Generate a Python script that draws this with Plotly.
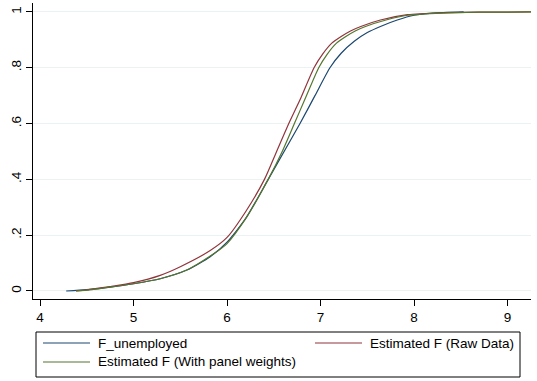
import plotly.graph_objects as go

# Data (x value, cumulative share F)
x_unemp = [4.28, 4.5, 4.75, 5.0, 5.285, 5.57, 5.82, 6.0, 6.2, 6.44, 6.61, 6.78, 6.94, 7.10, 7.22, 7.36, 7.5, 7.64, 7.82, 8.0, 8.2, 8.53]
F_unemp = [0.0, 0.005, 0.014, 0.026, 0.044, 0.075, 0.123, 0.175, 0.26, 0.4, 0.5, 0.6, 0.7, 0.8, 0.852, 0.895, 0.926, 0.948, 0.971, 0.988, 0.996, 1.0]

x_raw = [4.385, 4.5, 4.75, 5.0, 5.285, 5.5, 5.82, 6.0, 6.2, 6.4, 6.53, 6.66, 6.78, 6.93, 7.02, 7.12, 7.22, 7.32, 7.43, 7.64, 7.93, 8.3, 8.7, 9.25]
F_raw = [0.0, 0.004, 0.016, 0.03, 0.056, 0.087, 0.145, 0.192, 0.285, 0.4, 0.5, 0.6, 0.685, 0.8, 0.848, 0.888, 0.912, 0.932, 0.948, 0.971, 0.99, 0.997, 0.999, 1.0]

x_pw = [4.385, 4.5, 4.75, 5.0, 5.285, 5.57, 5.82, 6.0, 6.2, 6.44, 6.59, 6.72, 6.83, 6.98, 7.07, 7.17, 7.27, 7.37, 7.48, 7.70, 7.93, 8.3, 8.7, 9.25]
F_pw = [0.0, 0.003, 0.014, 0.026, 0.044, 0.075, 0.125, 0.17, 0.26, 0.4, 0.5, 0.6, 0.685, 0.8, 0.848, 0.888, 0.912, 0.932, 0.948, 0.971, 0.988, 0.996, 0.999, 1.0]

names = ["F_unemployed", "Estimated F (Raw Data)", "Estimated F (With panel weights)"]
colors = ["#1a476f", "#90353b", "#55752f"]

x_ticks = [4, 5, 6, 7, 8, 9]
y_ticks = [0, 0.2, 0.4, 0.6, 0.8, 1]
y_ticklabels = ["0", ".2", ".4", ".6", ".8", "1"]

fig = go.Figure()
for xs, ys, nm, c in zip([x_unemp, x_raw, x_pw], [F_unemp, F_raw, F_pw], names, colors):
    fig.add_trace(go.Scatter(x=xs, y=ys, mode="lines", name=nm, showlegend=False,
                             line=dict(color=c, width=1.2, shape="spline", smoothing=0.6)))

W, H = 537, 381
ml, mr, mt, mb = 33, 6, 3, 82
pw = W - ml - mr
ph = H - mt - mb
FS = 13.5


def px_x(px):
    return (px - ml) / pw


def px_y(py):
    return (H - mb - py) / ph


# Legend (Stata-style box, two columns)
shapes = [dict(type="rect", xref="paper", yref="paper",
               x0=px_x(36), x1=px_x(520), y0=px_y(377), y1=px_y(332),
               line=dict(color="black", width=1), fillcolor="white", layer="above")]
annotations = []
legend_pos = [(43, 343), (315, 343), (43, 362)]  # (sample start px, row centre px)
for (sx, sy), nm, c in zip(legend_pos, names, colors):
    shapes.append(dict(type="line", xref="paper", yref="paper",
                       x0=px_x(sx), x1=px_x(sx + 47), y0=px_y(sy), y1=px_y(sy),
                       line=dict(color=c, width=1.2)))
    annotations.append(dict(xref="paper", yref="paper", x=px_x(sx + 53), y=px_y(sy),
                            xanchor="left", yanchor="middle", text=nm, showarrow=False,
                            font=dict(size=FS, color="black")))

fig.update_layout(
    template="none",
    width=W, height=H,
    margin=dict(l=ml, r=mr, t=mt, b=mb, pad=0),
    paper_bgcolor="white", plot_bgcolor="white",
    font=dict(family="Liberation Sans, Arial, sans-serif", size=FS, color="black"),
    xaxis=dict(range=[3.925, 9.25], tickvals=x_ticks, ticks="outside", ticklen=6,
               tickcolor="black", tickwidth=1, showline=True, linecolor="black", linewidth=1,
               showgrid=False, zeroline=False, automargin=False, tickfont=dict(size=FS)),
    yaxis=dict(range=[-0.0287, 1.032], tickvals=y_ticks, ticktext=y_ticklabels,
               tickangle=-90, ticks="outside", ticklen=6, tickcolor="black", tickwidth=1,
               showline=True, linecolor="black", linewidth=1,
               showgrid=True, gridcolor="#eaf2f3", gridwidth=1, zeroline=False,
               automargin=False, tickfont=dict(size=FS)),
    shapes=shapes,
    annotations=annotations,
    showlegend=False,
)

fig.write_html("out.html", config={"displayModeBar": False},
               post_script="document.body.style.margin='0';")
